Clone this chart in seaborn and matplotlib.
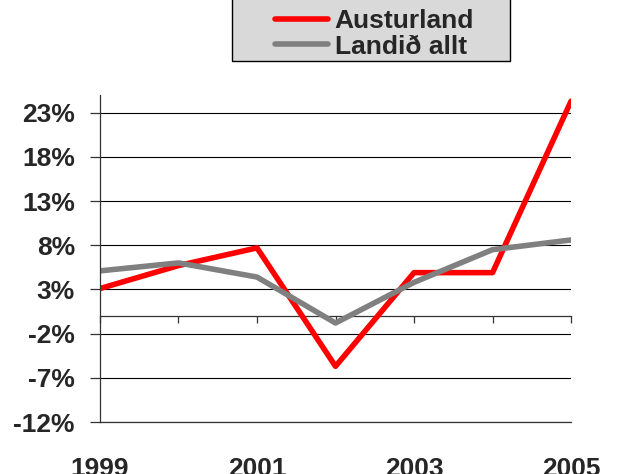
import pandas as pd
import seaborn as sns
import matplotlib.pyplot as plt
from matplotlib.patches import Rectangle
from matplotlib.ticker import FuncFormatter

# data (percent)
years = [1999, 2000, 2001, 2002, 2003, 2004, 2005]
austurland = [3.1, 5.7, 7.7, -5.7, 4.9, 4.9, 24.3]
landid_allt = [5.1, 6.0, 4.4, -0.8, 3.8, 7.5, 8.6]
series_names = ['Austurland', 'Landið allt']
y_ticks = [-12, -7, -2, 3, 8, 13, 18, 23]
x_labels = [1999, 2001, 2003, 2005]

df = pd.DataFrame({
    'Year': years * 2,
    'Value': austurland + landid_allt,
    'Series': [series_names[0]] * len(years) + [series_names[1]] * len(years),
})

sns.set_style('white')
plt.rcParams['font.family'] = ['Liberation Sans', 'DejaVu Sans']
plt.rcParams['font.weight'] = 'bold'

fig = plt.figure(figsize=(6.18, 4.74), dpi=100)
ax = fig.add_axes([0.1618, 0.1097, 0.924 - 0.1618, 0.7996 - 0.1097])

sns.lineplot(data=df, x='Year', y='Value', hue='Series', hue_order=series_names,
             palette={'Austurland': '#ff0000', 'Landið allt': '#808080'},
             linewidth=4, ax=ax, legend=True)

ax.set_xlim(1999, 2005)
ax.set_ylim(-12, 25)
ax.set_yticks(y_ticks)
ax.yaxis.set_major_formatter(FuncFormatter(lambda v, p: f'{v:.0f}%'))
ax.set_xticks(x_labels)
ax.grid(axis='y', color='black', linewidth=0.8)
ax.set_axisbelow(True)
ax.set_xlabel('')
ax.set_ylabel('')

for s in ['top', 'right']:
    ax.spines[s].set_visible(False)
for s in ['left', 'bottom']:
    ax.spines[s].set_color('#333333')
    ax.spines[s].set_linewidth(0.9)

ax.tick_params(axis='y', direction='out', length=7, width=0.9, color='#333333',
               left=True, labelsize=19, pad=11)
ax.tick_params(axis='x', length=0, labelsize=19, pad=25)

# category axis crossing at zero
zero_pos = (0 - ax.get_ylim()[0]) / (ax.get_ylim()[1] - ax.get_ylim()[0])
sec = ax.secondary_xaxis(zero_pos)
sec.set_xticks(years)
sec.set_xticklabels([])
sec.tick_params(direction='out', length=5, width=0.9, color='#333333')
sec.spines['bottom'].set_color('#333333')
sec.spines['bottom'].set_linewidth(0.9)

handles, labels = ax.get_legend_handles_labels()
ax.get_legend().remove()

fig.patches.append(Rectangle((232 / 618, 1 - 61 / 474), 278 / 618, 0.2,
                             transform=fig.transFigure, facecolor='#d9d9d9',
                             edgecolor='black', linewidth=1, zorder=0))
fig.legend(handles, labels, loc='upper left', bbox_to_anchor=(262 / 618, 1 + 4 / 474),
           frameon=False, borderpad=0, fontsize=19, handlelength=2.0,
           handletextpad=0.25, labelspacing=0.05)

plt.savefig('out.png', dpi=100)
